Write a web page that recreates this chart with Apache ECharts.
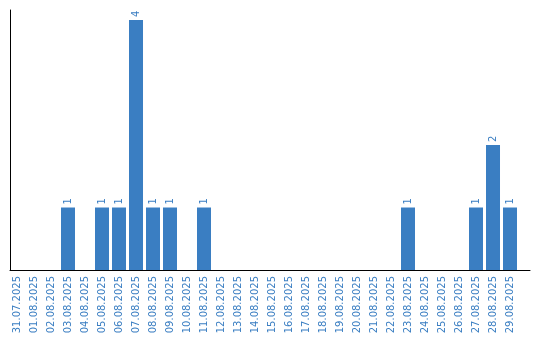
<!DOCTYPE html>
<html>
<head>
<meta charset="utf-8">
<script src="https://cdn.jsdelivr.net/npm/echarts@6/dist/echarts.min.js"></script>
<style>html,body{margin:0;padding:0;background:#fff}#c{width:540px;height:340px}</style>
</head>
<body>
<div id="c"></div>
<script>
var categories = ["31.07.2025","01.08.2025","02.08.2025","03.08.2025","04.08.2025","05.08.2025","06.08.2025","07.08.2025","08.08.2025","09.08.2025","10.08.2025","11.08.2025","12.08.2025","13.08.2025","14.08.2025","15.08.2025","16.08.2025","17.08.2025","18.08.2025","19.08.2025","20.08.2025","21.08.2025","22.08.2025","23.08.2025","24.08.2025","25.08.2025","26.08.2025","27.08.2025","28.08.2025","29.08.2025"];
var counts = [0,0,0,1,0,1,1,4,1,1,0,1,0,0,0,0,0,0,0,0,0,0,0,1,0,0,0,1,2,1];

var blue = '#3a7ec2';
var points = [];
var positions = [];
for (var i = 0; i < categories.length; i++) {
  positions.push(i);
  if (counts[i] > 0) points.push([i, counts[i]]);
}
var chart = echarts.init(document.getElementById('c'), null, {renderer: 'canvas'});
chart.setOption({
  animation: false,
  grid: {left: 10, right: 10, top: 10, bottom: 70, containLabel: false},
  xAxis: {
    type: 'value',
    min: -0.412,
    max: 30.176,
    axisLine: {show: true, onZero: false, lineStyle: {color: '#000', width: 1}},
    axisTick: {show: false},
    splitLine: {show: false},
    axisLabel: {
      customValues: positions,
      rotate: 90,
      margin: 6,
      color: blue,
      fontFamily: 'DejaVu Sans',
      fontSize: 10,
      formatter: function (v) { return categories[Math.round(v)] || ''; }
    }
  },
  yAxis: {
    type: 'value',
    min: 0,
    max: 4.16,
    axisLine: {show: true, onZero: false, lineStyle: {color: '#000', width: 1}},
    axisTick: {show: false},
    axisLabel: {show: false},
    splitLine: {show: false}
  },
  series: [{
    type: 'bar',
    data: points,
    barWidth: 14,
    itemStyle: {color: blue},
    label: {
      show: true,
      position: 'top',
      rotate: 90,
      align: 'left',
      verticalAlign: 'middle',
      distance: 3,
      color: blue,
      fontFamily: 'DejaVu Sans',
      fontSize: 10
    }
  }]
});
</script>
</body>
</html>
